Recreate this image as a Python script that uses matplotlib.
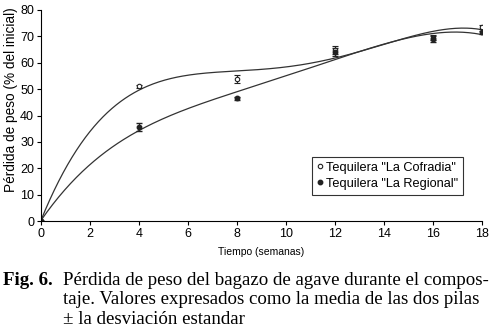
import numpy as np
import matplotlib
matplotlib.use("Agg")
import matplotlib.pyplot as plt
from matplotlib.lines import Line2D

weeks = [0, 4, 8, 12, 16, 18]
cofradia = [0, 51.0, 54.0, 65.0, 69.5, 73.5]
cofradia_err = [0, 0.6, 1.5, 1.5, 1.0, 0.8]
regional = [0, 35.5, 46.5, 64.0, 69.0, 71.5]
regional_err = [0, 1.5, 0.5, 1.5, 1.2, 0.6]
xticks = [0, 2, 4, 6, 8, 10, 12, 14, 16, 18]
yticks = [0, 10, 20, 30, 40, 50, 60, 70, 80]
labels = ['Tequilera "La Cofradia"', 'Tequilera "La Regional"']

sans = "Liberation Sans"
serif = "Liberation Serif"
ink = "#222222"

fig = plt.figure(figsize=(4.92, 3.29), dpi=100)
ax = fig.add_axes([41/492, 1-221/329, (482-41)/492, (221-10)/329])

xs = np.linspace(0, 18, 300)
pc = np.polyfit(weeks, cofradia, 4)
pr = np.polyfit(weeks, regional, 4)
ax.plot(xs, np.polyval(pc, xs), color="#333333", lw=0.9)
ax.plot(xs, np.polyval(pr, xs), color="#333333", lw=0.9)

ax.errorbar(weeks, cofradia, yerr=cofradia_err, fmt="o", ms=3.2, mfc="white",
            mec=ink, mew=0.8, ecolor=ink, elinewidth=0.8, capsize=2)
ax.errorbar(weeks, regional, yerr=regional_err, fmt="o", ms=3.2, mfc=ink,
            mec=ink, ecolor=ink, elinewidth=0.8, capsize=2)

ax.set_xlim(0, 18)
ax.set_ylim(0, 80)
ax.set_xticks(xticks)
ax.set_yticks(yticks)
ax.tick_params(direction="out", length=3, width=0.8, labelsize=9, pad=2)
for lab in ax.get_xticklabels() + ax.get_yticklabels():
    lab.set_family(sans)
for s in ["top", "right"]:
    ax.spines[s].set_visible(False)
ax.set_xlabel("Tiempo (semanas)", fontsize=7.5, family=sans, labelpad=5)
ax.set_ylabel("Pérdida de peso (% del inicial)", fontsize=9.8, family=sans)
ax.yaxis.set_label_coords(-(41-18)/441, (221-100)/211)

handles = [
    Line2D([], [], ls="none", marker="o", ms=3.2, mfc="white", mec=ink, mew=0.8),
    Line2D([], [], ls="none", marker="o", ms=3.2, mfc=ink, mec=ink),
]
leg = ax.legend(handles, labels, loc="lower right", bbox_to_anchor=(0.958, 0.125),
                frameon=True, fancybox=False, edgecolor="black", handlelength=0.5,
                handletextpad=0.25, borderpad=0.4, labelspacing=0.3,
                borderaxespad=0, prop={"family": sans, "size": 9.2})
leg.get_frame().set_linewidth(0.8)

fs = 13.6
fig.text(3/492, 1-285/329, "Fig. 6.", family=serif, fontweight="bold", fontsize=fs, va="baseline")
fig.text(63/492, 1-285/329, "Pérdida de peso del bagazo de agave durante el compos-",
         family=serif, fontsize=fs, va="baseline")
fig.text(63/492, 1-304.5/329, "taje. Valores expresados como la media de las dos pilas",
         family=serif, fontsize=fs, va="baseline")
fig.text(63/492, 1-324/329, "± la desviación estandar",
         family=serif, fontsize=fs, va="baseline")

fig.savefig("out.png", dpi=100)
